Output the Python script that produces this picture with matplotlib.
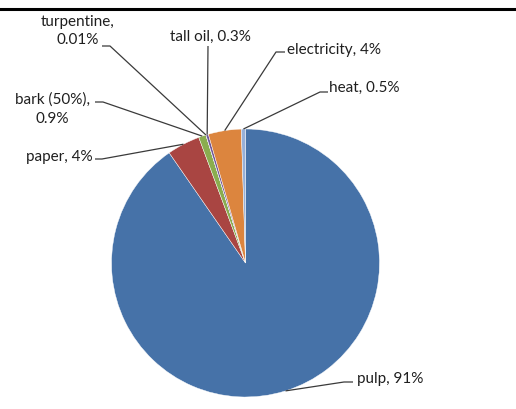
import matplotlib
matplotlib.use('Agg')
import matplotlib.pyplot as plt
import numpy as np
from matplotlib.lines import Line2D

# slice data, clockwise from 12 o'clock
names = ['pulp', 'paper', 'bark (50%)', 'turpentine', 'tall oil', 'electricity', 'heat']
shares = [91, 4, 0.9, 0.01, 0.3, 4, 0.5]
share_labels = ['91%', '4%', '0.9%', '0.01%', '0.3%', '4%', '0.5%']
colors = ['#4672A8', '#A94542', '#8AAD4F', '#4198AF', '#71599A', '#DC853E', '#97B0D8']

H = 410  # figure height in px, used to flip y

# label layout in pixel coords from top-left:
# text x, text y, ha, label text, leader start (x, y), elbow (x, y)
label_layout = {
    'pulp': (357, 379, 'left', 'pulp, 91%', (353, 383), (344, 383)),
    'paper': (93, 157, 'right', 'paper, 4%', (95, 160), (102, 160)),
    'bark (50%)': (52, 109, 'center', 'bark (50%),\n0.9%', (95, 103), (103, 103)),
    'turpentine': (78, 31, 'center', 'turpentine,\n0.01%', (102, 47), (110, 47)),
    'tall oil': (210, 37, 'center', 'tall oil, 0.3%', (208, 47), (208, 47)),
    'electricity': (287, 50, 'left', 'electricity, 4%', (285, 53), (276, 53)),
    'heat': (329, 88, 'left', 'heat, 0.5%', (328, 93), (320, 93)),
}

fig = plt.figure(figsize=(5.16, 4.10), dpi=100)
ax = fig.add_axes([0, 0, 1, 1])

cx, cy, r = 245.5, H - 264, 134
wedges, _ = ax.pie(shares, colors=colors, startangle=90, counterclock=False,
                   center=(cx, cy), radius=r, frame=True,
                   wedgeprops=dict(edgecolor='white', linewidth=0.3))
ax.set_xlim(0, 516)
ax.set_ylim(0, H)
ax.set_aspect('equal')
ax.axis('off')

for name, w in zip(names, wedges):
    tx, ty, ha, txt, start, elbow = label_layout[name]
    ang = np.deg2rad((w.theta1 + w.theta2) / 2)
    px, py = cx + r * np.cos(ang), cy + r * np.sin(ang)
    ax.plot([start[0], elbow[0], px], [H - start[1], H - elbow[1], py],
            color='#3a3a3a', linewidth=0.9, solid_capstyle='butt')
    ax.text(tx, H - ty, txt, ha=ha, va='center', fontsize=11,
            family=['Lato', 'DejaVu Sans'], color='#1f1f1f', linespacing=1.45)

# top rule of the frame
fig.add_artist(Line2D([0, 515 / 516], [1 - 10 / H, 1 - 10 / H], color='black', linewidth=2.2))

fig.savefig('out.png', dpi=100)
